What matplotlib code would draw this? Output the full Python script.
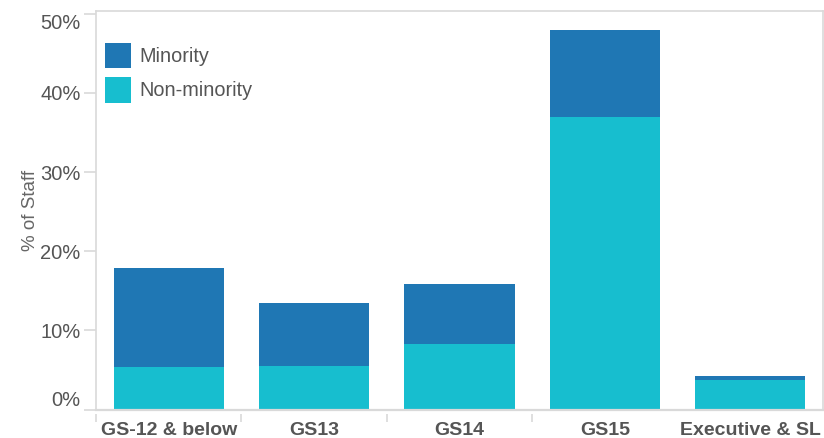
import matplotlib
matplotlib.use("Agg")
import matplotlib.pyplot as plt
from matplotlib.patches import Patch
from matplotlib.ticker import FixedLocator, FuncFormatter
import numpy as np

plt.rcParams['font.family'] = ['Liberation Sans', 'DejaVu Sans']

categories = ["GS-12 & below", "GS13", "GS14", "GS15", "Executive & SL"]
non_minority = [5.4, 5.5, 8.3, 37.0, 3.7]
minority = [12.5, 8.0, 7.6, 11.0, 0.5]
y_ticks = [0, 10, 20, 30, 40, 50]

C_MIN = "#1f77b4"
C_NON = "#17becf"
GRID = "#d9d9d9"
TXT = "#555555"

fig = plt.figure(figsize=(8.24, 4.38), dpi=100)
ax = fig.add_axes([96 / 824, (438 - 409.5) / 438, 727 / 824, (409.5 - 10.7) / 438])

x = np.arange(len(categories))
w = 0.757
ax.bar(x, non_minority, width=w, color=C_NON, linewidth=0, zorder=2)
ax.bar(x, minority, width=w, bottom=non_minority, color=C_MIN, linewidth=0, zorder=2)

ax.set_xlim(-0.5, len(categories) - 0.5)
ax.set_ylim(0, 50.4)

# frame
for side in ("left", "top", "right"):
    ax.spines[side].set_color(GRID)
    ax.spines[side].set_linewidth(1.2)
ax.spines["bottom"].set_position(("outward", 3))
ax.spines["bottom"].set_linewidth(0)
ax.axhline(0, color=GRID, linewidth=1.6, zorder=3, clip_on=False)

# y axis
ax.set_yticks(y_ticks)
ax.yaxis.set_major_formatter(FuncFormatter(lambda v, p: f"{v:.0f}%"))
ax.tick_params(axis="y", length=9, width=1.2, color=GRID, labelsize=14.5,
               labelcolor=TXT, pad=2)
ylabels = ax.get_yticklabels()
ylabels[0].set_va("bottom")
ylabels[-1].set_va("top")
ax.set_ylabel("% of Staff", fontsize=13.5, color="#666666")
ax.yaxis.set_label_coords(-0.078, 0.5)

# x axis: category labels with separators between groups
ax.set_xticks(x)
ax.set_xticklabels(categories, fontsize=14, fontweight="bold", color=TXT)
ax.tick_params(axis="x", which="major", length=0, pad=6)
ax.xaxis.set_minor_locator(FixedLocator(list(x[:-1] - 0.5)))
ax.tick_params(axis="x", which="minor", length=6, width=1.2, color=GRID)

handles = [Patch(facecolor=C_MIN, edgecolor="none", label="Minority"),
           Patch(facecolor=C_NON, edgecolor="none", label="Non-minority")]
leg = ax.legend(handles=handles, loc="upper left", bbox_to_anchor=(0.0124, 0.92),
                frameon=False, fontsize=14.3, handlelength=1.31, handleheight=1.6,
                handletextpad=0.4, labelspacing=0.45, borderpad=0, borderaxespad=0)
for t in leg.get_texts():
    t.set_color(TXT)

fig.savefig("out.png", dpi=100)
